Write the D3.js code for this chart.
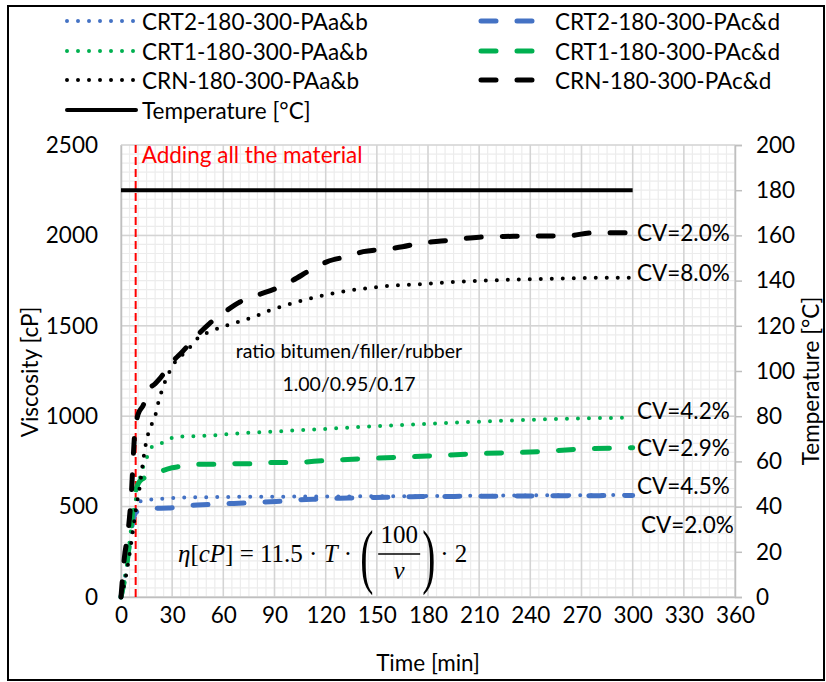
<!DOCTYPE html>
<html>
<head>
<meta charset="utf-8">
<script src="https://cdn.jsdelivr.net/npm/d3@7"></script>
<style>
  body { margin: 0; background: #fff; }
  svg { display: block; font-family: Lato, "Noto Sans", sans-serif; }
</style>
</head>
<body>
<div id="chart"></div>
<script>
// time axis ticks [min], viscosity ticks [cP], temperature ticks [°C]
let timeTicks = [0, 30, 60, 90, 120, 150, 180, 210, 240, 270, 300, 330, 360];
let viscTicks = [0, 500, 1000, 1500, 2000, 2500];
let tempTicks = [0, 20, 40, 60, 80, 100, 120, 140, 160, 180, 200];

// series: [time, viscosity]
let crt2ab = [[0,0],[3,150],[6,350],[8,480],[10,520],[14,537],[20,540],[30,548],[60,553],[120,556],[180,558],[240,562],[300,564]];
let crt2cd = [[0,0],[2.5,130],[5,300],[7,420],[9,470],[12,480],[19,490],[28,492],[38,505],[48,510],[61,516],[73,520],[83,525],[95,530],[105,538],[118,542],[127,546],[139,548],[149,551],[161,552],[171,555],[183,556],[210,557],[240,559],[270,560],[300,562]];
let crt1ab = [[0,0],[3,150],[6,380],[8,500],[10,610],[12,690],[15,767],[17,822],[21,841],[26,859],[32,887],[44,890],[57,896],[63,901],[90,915],[120,930],[150,945],[180,958],[210,970],[240,980],[270,988],[300,992]];
let crt1cd = [[0,0],[3,150],[5,300],[7,480],[9,600],[12,650],[16,665],[20,680],[23,693],[30,715],[34,721],[44,734],[55,734],[67,737],[79,737],[89,744],[101,744],[120,755],[150,768],[180,780],[210,793],[240,802],[270,818],[300,826]];
let crnab = [[0,0],[3,120],[6,300],[9,500],[11,610],[12,684],[15,868],[17,933],[20,1000],[22,1080],[25,1170],[30,1274],[39,1366],[46,1440],[52,1467],[61,1499],[70,1525],[78,1550],[87,1585],[97,1615],[107,1642],[117,1665],[126,1683],[136,1698],[146,1710],[156,1720],[175,1730],[195,1742],[220,1752],[250,1760],[275,1765],[300,1766]];
let crncd = [[0,0],[2,220],[4,350],[6,560],[8,900],[10,1010],[13,1060],[16,1145],[20,1180],[23,1211],[30,1300],[36,1357],[44,1440],[52,1514],[61,1578],[70,1633],[80,1670],[91,1707],[101,1753],[111,1808],[121,1855],[132,1882],[142,1910],[154,1923],[165,1937],[175,1956],[190,1970],[210,1990],[230,1995],[250,1997],[262,1998],[275,2013],[285,2015],[300,2015]];
let temperature = [[0,180],[300,180]];
let addTime = 8.6;

let seriesNames = ["CRT2-180-300-PAa&b", "CRT2-180-300-PAc&d", "CRT1-180-300-PAa&b", "CRT1-180-300-PAc&d", "CRN-180-300-PAa&b", "CRN-180-300-PAc&d"];
let cvLabels = ["CV=4.5%", "CV=2.0%", "CV=4.2%", "CV=2.9%", "CV=8.0%", "CV=2.0%"];

let blue = "#4472C4", green = "#00B050", black = "#000000";
let dotted = {width: 4, dash: "0 11"};
let dashed = {width: 5, dash: "15 21"};

let series = [
    {name: seriesNames[0], data: crt2ab, color: blue, style: dotted},
    {name: seriesNames[1], data: crt2cd, color: blue, style: dashed},
    {name: seriesNames[2], data: crt1ab, color: green, style: dotted},
    {name: seriesNames[3], data: crt1cd, color: green, style: dashed},
    {name: seriesNames[4], data: crnab, color: black, style: dotted},
    {name: seriesNames[5], data: crncd, color: black, style: dashed}
];

let width = 826, height = 682;
let plot = {left: 121, right: 735, top: 145, bottom: 597};

let svg = d3.select("#chart").append("svg")
    .attr("width", width)
    .attr("height", height);

svg.append("rect")
    .attr("x", 8).attr("y", 6)
    .attr("width", 816).attr("height", 674)
    .attr("fill", "#fff")
    .attr("stroke", "#000")
    .attr("stroke-width", 2);

let x = d3.scaleLinear().domain([0, 360]).range([plot.left, plot.right]);
let y = d3.scaleLinear().domain([0, 2500]).range([plot.bottom, plot.top]);
let yT = d3.scaleLinear().domain([0, 200]).range([plot.bottom, plot.top]);

// gridlines
let grid = svg.append("g");
grid.selectAll(".vminor").data(d3.range(0, 361, 5))
    .enter().append("line")
    .attr("x1", d => x(d)).attr("x2", d => x(d))
    .attr("y1", plot.top).attr("y2", plot.bottom)
    .attr("stroke", "#ececec").attr("stroke-width", 1.2);
grid.selectAll(".hminor").data(d3.range(0, 2501, 50))
    .enter().append("line")
    .attr("x1", plot.left).attr("x2", plot.right)
    .attr("y1", d => y(d)).attr("y2", d => y(d))
    .attr("stroke", "#ececec").attr("stroke-width", 1.2);
grid.selectAll(".vmajor").data(timeTicks)
    .enter().append("line")
    .attr("x1", d => x(d)).attr("x2", d => x(d))
    .attr("y1", plot.top).attr("y2", plot.bottom)
    .attr("stroke", "#d4d4d4").attr("stroke-width", 1.5);
grid.selectAll(".hmajor").data(viscTicks)
    .enter().append("line")
    .attr("x1", plot.left).attr("x2", plot.right)
    .attr("y1", d => y(d)).attr("y2", d => y(d))
    .attr("stroke", "#d4d4d4").attr("stroke-width", 1.5);

// axes
let axisColor = "#bfbfbf";
let fontSize = 22.5;

let xAxis = svg.append("g")
    .attr("transform", `translate(0,${plot.bottom})`)
    .call(d3.axisBottom(x).tickValues(timeTicks).tickSize(0).tickPadding(24).tickFormat(d3.format("d")));
let yAxis = svg.append("g")
    .attr("transform", `translate(${plot.left},0)`)
    .call(d3.axisLeft(y).tickValues(viscTicks).tickSize(0).tickPadding(23).tickFormat(d3.format("d")));
let tAxis = svg.append("g")
    .attr("transform", `translate(${plot.right},0)`)
    .call(d3.axisRight(yT).tickValues(tempTicks).tickSize(7).tickPadding(14).tickFormat(d3.format("d")));

[xAxis, yAxis, tAxis].forEach(a => {
    a.select(".domain").attr("stroke", axisColor).attr("stroke-width", 1.5);
    a.selectAll(".tick line").attr("stroke", axisColor).attr("stroke-width", 1.5);
    a.selectAll("text")
        .attr("font-family", "Lato")
        .attr("font-size", fontSize)
        .attr("fill", "#000");
});
xAxis.selectAll("text").attr("dy", "0.1em");

// axis titles
svg.append("text")
    .attr("x", 428).attr("y", 662)
    .attr("text-anchor", "middle").attr("dominant-baseline", "central")
    .attr("font-size", fontSize)
    .text("Time [min]");
svg.append("text")
    .attr("transform", "translate(29,372) rotate(-90)")
    .attr("text-anchor", "middle").attr("dominant-baseline", "central")
    .attr("font-size", fontSize)
    .text("Viscosity [cP]");
svg.append("text")
    .attr("transform", "translate(810,381) rotate(-90)")
    .attr("text-anchor", "middle").attr("dominant-baseline", "central")
    .attr("font-size", fontSize)
    .text("Temperature [°C]");

// red marker for adding the material
svg.append("line")
    .attr("x1", x(addTime)).attr("x2", x(addTime))
    .attr("y1", plot.top).attr("y2", plot.bottom)
    .attr("stroke", "#ff0000").attr("stroke-width", 2)
    .attr("stroke-dasharray", "8 4");
svg.append("text")
    .attr("x", x(addTime) + 6).attr("y", 163)
    .attr("font-size", fontSize)
    .attr("fill", "#ff0000")
    .text("Adding all the material");

// lines
let valueLine = d3.line()
    .x(d => x(d[0]))
    .y(d => y(d[1]))
    .curve(d3.curveMonotoneX);

let tempLine = d3.line()
    .x(d => x(d[0]))
    .y(d => yT(d[1]));

svg.append("path")
    .datum(temperature)
    .attr("d", tempLine)
    .attr("fill", "none")
    .attr("stroke", "#000")
    .attr("stroke-width", 4);

svg.selectAll(".series").data(series)
    .enter().append("path")
    .attr("class", "series")
    .attr("d", d => valueLine(d.data))
    .attr("fill", "none")
    .attr("stroke", d => d.color)
    .attr("stroke-width", d => d.style.width)
    .attr("stroke-dasharray", d => d.style.dash)
    .attr("stroke-linecap", "round")
    .attr("stroke-linejoin", "round");

// CV labels at the end of each series
let cvPos = [
    {i: 0, dy: 485, dx: 637},
    {i: 1, dy: 524, dx: 641},
    {i: 2, dy: 410, dx: 637},
    {i: 3, dy: 447, dx: 637},
    {i: 4, dy: 272, dx: 637},
    {i: 5, dy: 232, dx: 637}
];
svg.selectAll(".cv").data(cvPos)
    .enter().append("text")
    .attr("x", d => d.dx).attr("y", d => d.dy)
    .attr("dominant-baseline", "central")
    .attr("font-size", fontSize)
    .text(d => cvLabels[d.i]);

// ratio annotation
svg.append("text")
    .attr("x", 349).attr("y", 350)
    .attr("text-anchor", "middle").attr("dominant-baseline", "central")
    .attr("font-size", 19.5)
    .text("ratio bitumen/filler/rubber");
svg.append("text")
    .attr("x", 349).attr("y", 383)
    .attr("text-anchor", "middle").attr("dominant-baseline", "central")
    .attr("font-size", 19.5)
    .text("1.00/0.95/0.17");

// formula
let serif = "'Liberation Serif', 'DejaVu Serif', serif";
let f = svg.append("g").attr("font-family", serif).attr("font-size", 25);
let f1 = f.append("text").attr("x", 178).attr("y", 562);
f1.append("tspan").attr("font-style", "italic").text("η");
f1.append("tspan").text("[");
f1.append("tspan").attr("font-style", "italic").text("cP");
f1.append("tspan").text("] = 11.5 · ");
f1.append("tspan").attr("font-style", "italic").text("T");
f1.append("tspan").text(" ·");
let endX = 178 + f1.node().getComputedTextLength();
let px = endX + 8;
f.append("text")
    .attr("transform", `translate(${px},580) scale(0.55,1)`)
    .attr("font-size", 72)
    .attr("font-weight", 300)
    .text("(");
let fx = px + 18;
f.append("text").attr("x", fx + 21).attr("y", 543).attr("text-anchor", "middle").text("100");
f.append("line")
    .attr("x1", fx).attr("x2", fx + 42)
    .attr("y1", 554).attr("y2", 554)
    .attr("stroke", "#000").attr("stroke-width", 1.5);
f.append("text").attr("x", fx + 21).attr("y", 579).attr("text-anchor", "middle")
    .attr("font-style", "italic").text("v");
f.append("text")
    .attr("transform", `translate(${fx + 44},580) scale(0.55,1)`)
    .attr("font-size", 72)
    .attr("font-weight", 300)
    .text(")");
f.append("text").attr("x", fx + 62).attr("y", 562).text("· 2");

// legend
let legendLeft = [series[0], series[2], series[4], {name: "Temperature [°C]", color: "#000", style: {width: 4, dash: null}}];
let legendRight = [series[1], series[3], series[5]];
let rowY = [21, 51, 80, 110];

function drawLegend(items, x0, x1, tx) {
    let g = svg.append("g");
    let rows = g.selectAll("g").data(items).enter().append("g")
        .attr("transform", (d, i) => `translate(0,${rowY[i]})`);
    rows.append("line")
        .attr("x1", x0).attr("x2", x1)
        .attr("stroke", d => d.color)
        .attr("stroke-width", d => d.style.width)
        .attr("stroke-dasharray", d => d.style.dash)
        .attr("stroke-linecap", "round");
    rows.append("text")
        .attr("x", tx)
        .attr("dominant-baseline", "central")
        .attr("font-size", fontSize)
        .text(d => d.name);
}
drawLegend(legendLeft, 67, 136, 142);
drawLegend(legendRight, 481, 535, 555);
</script>
</body>
</html>
